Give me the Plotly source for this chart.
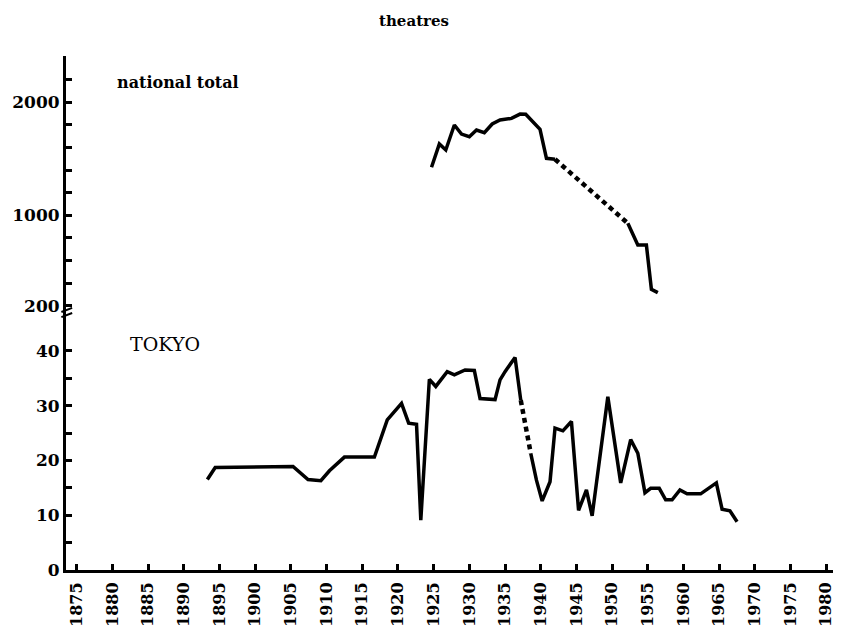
import plotly.graph_objects as go

# national total (number of theatres)
nat_years_a = [1924.7, 1925.8, 1926.7, 1927.9, 1928.9, 1930.0, 1931.0, 1932.1,
               1933.2, 1934.3, 1935.9, 1937.1, 1937.9, 1939.9, 1940.8, 1942.0]
nat_vals_a = [1425, 1631, 1578, 1799, 1719, 1696, 1755, 1731,
              1808, 1843, 1858, 1896, 1894, 1761, 1504, 1496]
nat_years_gap = [1942.0, 1952.2]
nat_vals_gap = [1496, 929]
nat_years_b = [1952.2, 1953.6, 1954.8, 1955.5, 1956.4]
nat_vals_b = [929, 737, 737, 345, 315]

# Tokyo
tokyo_years_a = [1893.3, 1894.4, 1905.3, 1907.4, 1909.2, 1910.4, 1912.5, 1916.7,
                 1918.5, 1920.5, 1921.5, 1922.6, 1923.2, 1924.4, 1925.3, 1926.9,
                 1927.9, 1929.4, 1930.7, 1931.5, 1933.6, 1934.3, 1935.0, 1936.4,
                 1937.2]
tokyo_vals_a = [16.5, 18.7, 18.9, 16.5, 16.3, 18.1, 20.6, 20.6,
                27.4, 30.4, 26.8, 26.6, 9.1, 34.8, 33.5, 36.2,
                35.6, 36.5, 36.4, 31.3, 31.1, 34.7, 36.2, 38.8,
                31.0]
tokyo_years_gap = [1937.2, 1938.6]
tokyo_vals_gap = [31.0, 21.3]
tokyo_years_b = [1938.6, 1939.4, 1940.2, 1941.3, 1942.0, 1943.1, 1944.3, 1945.3,
                 1946.4, 1947.2, 1949.4, 1951.2, 1952.6, 1953.6, 1954.6, 1955.4,
                 1956.6, 1957.5, 1958.4, 1959.5, 1960.5, 1962.4, 1964.6, 1965.4,
                 1966.5, 1967.5]
tokyo_vals_b = [21.3, 16.4, 12.6, 16.1, 25.9, 25.4, 27.1, 10.9,
                14.6, 9.9, 31.6, 15.9, 23.8, 21.3, 14.1, 14.9,
                14.9, 12.8, 12.8, 14.6, 13.9, 13.9, 15.9, 11.1,
                10.8, 8.8]

year_ticks = list(range(1875, 1981, 5))
tokyo_ticks = [0, 5, 10, 15, 20, 25, 30, 35, 40]
tokyo_labels = ['0', '', '10', '', '20', '', '30', '', '40']
nat_ticks = list(range(200, 2201, 200))
nat_labels = ['200', '', '', '', '1000', '', '', '', '', '2000', '']

FONT = 'DejaVu Serif'
solid = dict(color='black', width=3.5)
dotted = dict(color='black', width=4.5, dash='5px,4px')

# page has an 8px body margin, so the figure is made 8px smaller
W, H = 833, 627

fig = go.Figure()

for xs, ys, ln, ax in [
    (nat_years_a, nat_vals_a, solid, 'y2'),
    (nat_years_gap, nat_vals_gap, dotted, 'y2'),
    (nat_years_b, nat_vals_b, solid, 'y2'),
    (tokyo_years_a, tokyo_vals_a, solid, 'y'),
    (tokyo_years_gap, tokyo_vals_gap, dotted, 'y'),
    (tokyo_years_b, tokyo_vals_b, solid, 'y'),
]:
    fig.add_trace(go.Scatter(x=xs, y=ys, mode='lines', line=ln, yaxis=ax,
                             hoverinfo='skip'))

axis_common = dict(showgrid=False, zeroline=False, showline=True,
                   linecolor='black', linewidth=3, ticks='inside',
                   tickcolor='black', tickwidth=2.5, ticklen=6,
                   tickfont=dict(family=FONT, size=17, color='black', weight='bold'))

fig.update_layout(
    width=W, height=H,
    margin=dict(l=53, r=4, t=48, b=65),
    paper_bgcolor='white', plot_bgcolor='white',
    showlegend=False,
    title=dict(text='theatres', x=406 / W, xanchor='center', xref='container',
               y=1 - 13 / H, yanchor='middle', yref='container',
               font=dict(family=FONT, size=15, color='black', weight='bold')),
    xaxis=dict(axis_common, range=[1873.5, 1981.5], tickvals=year_ticks,
               tickangle=-90, ticklabelstandoff=3, anchor='y',
               tickfont=dict(family=FONT, size=16, color='black', weight='bold')),
    yaxis=dict(axis_common, domain=[0, 0.5], range=[0, 46.9],
               tickvals=tokyo_ticks, ticktext=tokyo_labels, anchor='x'),
    yaxis2=dict(axis_common, domain=[0.5, 1], range=[135, 2410],
                tickvals=nat_ticks, ticktext=nat_labels, anchor='x'),
)

fig.add_annotation(text='national total', xref='paper', yref='paper',
                   x=0.064, y=0.949, xanchor='left', yanchor='middle',
                   showarrow=False,
                   font=dict(family=FONT, size=16, color='black', weight='bold'))
fig.add_annotation(text='TOKYO', xref='paper', yref='paper',
                   x=0.081, y=0.44, xanchor='left', yanchor='middle',
                   showarrow=False,
                   font=dict(family=FONT, size=19, color='black'))

# small break mark on the value axis
for dy in (-0.004, 0.006):
    fig.add_shape(type='line', xref='paper', yref='paper',
                  x0=-0.006, x1=0.008, y0=0.5 + dy - 0.004, y1=0.5 + dy + 0.004,
                  line=dict(color='black', width=2))

fig.write_html('out.html')
